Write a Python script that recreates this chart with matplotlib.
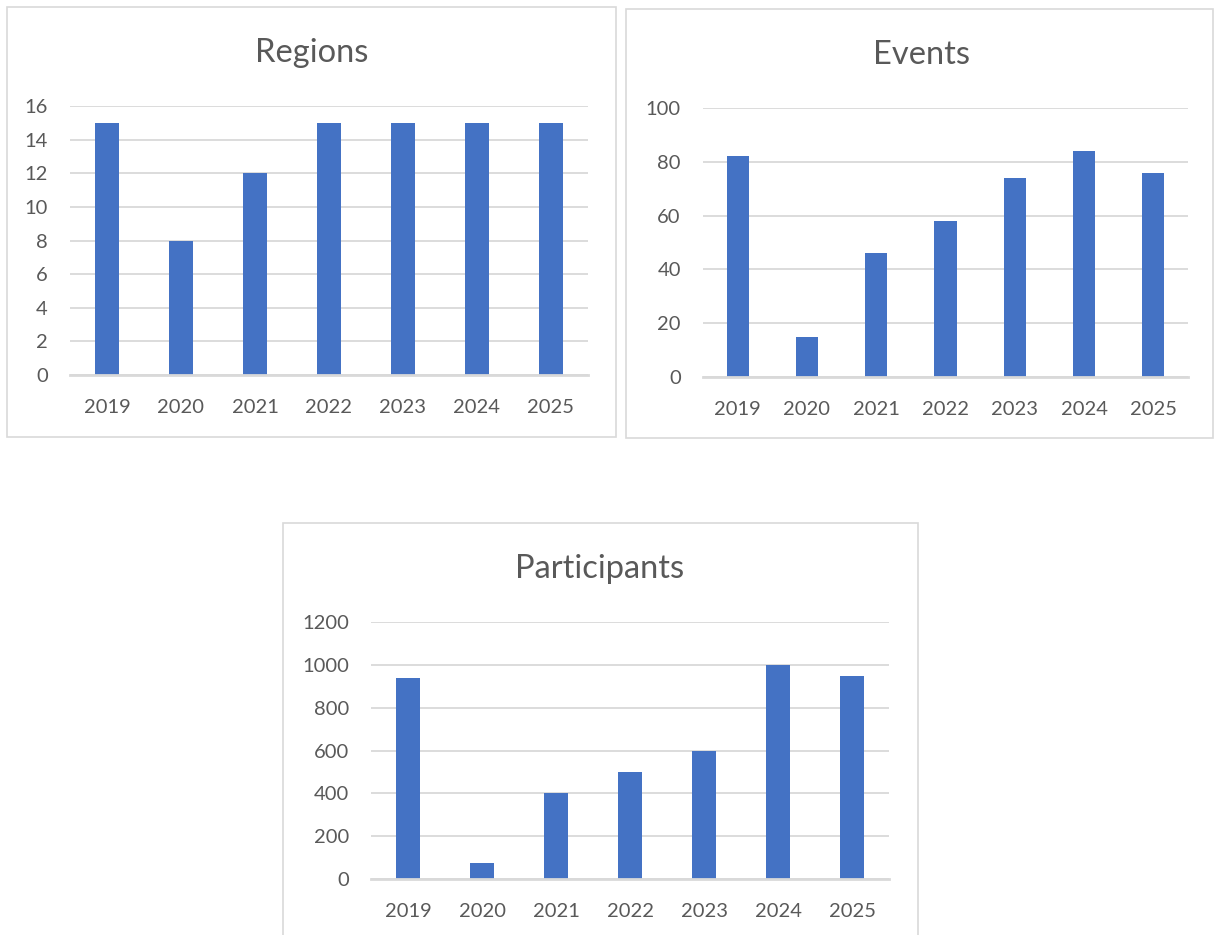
import numpy as np
import matplotlib
matplotlib.use("Agg")
import matplotlib.pyplot as plt
from matplotlib.patches import Rectangle

plt.rcParams['font.family'] = ['Lato', 'DejaVu Sans']

# data
years = ['2019', '2020', '2021', '2022', '2023', '2024', '2025']
regions = [15, 8, 12, 15, 15, 15, 15]
events = [82, 15, 46, 58, 74, 84, 76]
participants = [940, 75, 400, 500, 600, 1000, 950]

regions_ticks = [0, 2, 4, 6, 8, 10, 12, 14, 16]
events_ticks = [0, 20, 40, 60, 80, 100]
participants_ticks = [0, 200, 400, 600, 800, 1000, 1200]

W, H = 1214, 935
BLUE = '#4472C4'
GRID = '#d9d9d9'
TXT = '#595959'

fig = plt.figure(figsize=(W / 100, H / 100), dpi=100)


def box(x0, y0, x1, y1):
    # chart frame, given in pixels from the top-left corner
    fig.add_artist(Rectangle((x0 / W, 1 - y1 / H), (x1 - x0) / W, (y1 - y0) / H,
                             transform=fig.transFigure, fill=False,
                             edgecolor=GRID, lw=1.2))


def chart(l, t, r, b, values, ticks, title, title_xy):
    ax = fig.add_axes([l / W, 1 - b / H, (r - l) / W, (b - t) / H])
    x = np.arange(len(years))
    ax.bar(x, values, width=0.32, color=BLUE, zorder=3)
    ax.set_xlim(-0.5, len(years) - 0.5)
    ax.set_ylim(ticks[0], ticks[-1])
    ax.set_yticks(ticks)
    ax.set_xticks(x)
    ax.set_xticklabels(years)
    ax.grid(axis='y', color=GRID, lw=1.3, zorder=0)
    for s in ('top', 'right', 'left'):
        ax.spines[s].set_visible(False)
    ax.spines['bottom'].set_color(GRID)
    ax.spines['bottom'].set_linewidth(2)
    ax.spines['bottom'].set_zorder(4)
    ax.tick_params(axis='both', length=0, labelsize=14.5, colors=TXT)
    ax.tick_params(axis='y', pad=16)
    ax.tick_params(axis='x', pad=17.5)
    ax.set_facecolor('none')
    # title baseline position in pixels
    fig.text(title_xy[0] / W, 1 - title_xy[1] / H, title, ha='center', va='baseline',
             fontsize=23.5, color=TXT)
    return ax


box(7, 7, 616, 437)
chart(70, 106, 588, 375, regions, regions_ticks, 'Regions', (312, 62))

box(626, 9, 1213, 438)
chart(703, 108, 1188, 377, events, events_ticks, 'Events', (921, 64))

box(283, 523, 918, 945)
chart(371, 622, 889, 879, participants, participants_ticks, 'Participants', (600, 578))

fig.savefig('out.png', dpi=100, facecolor='white')
